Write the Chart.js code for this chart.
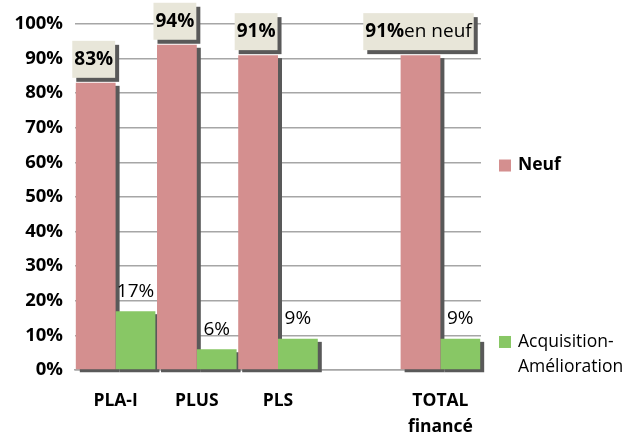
<!DOCTYPE html>
<html>
<head>
<meta charset="utf-8">
<script src="https://cdn.jsdelivr.net/npm/chart.js"></script>
<style>
html,body{margin:0;padding:0;background:#fff;}
#wrap{width:638px;height:434px;}
</style>
</head>
<body>
<div id="wrap"><canvas id="c"></canvas></div>
<script>
// values
const categories = ['PLA-I', 'PLUS', 'PLS', '', ['TOTAL', 'financé']];
const neuf = [83, 94, 91, null, 91];
const acquisition = [17, 6, 9, null, 9];
const neufSuffix = ['', '', '', '', 'en neuf'];
const seriesNames = ['Neuf', 'Acquisition-\nAmélioration'];
const yMax = 100;
const yStep = 10;

const PINK = '#D48F8F';
const GREEN = '#88C765';
const SHADOW = '#595959';
const BOX = '#E8E6D9';
const FONT = "'Open Sans', sans-serif";

// grey drop shadow behind every bar, drawn before the bars themselves
const shadowPlugin = {
  id: 'barShadow',
  beforeDatasetsDraw(chart) {
    const ctx = chart.ctx;
    ctx.save();
    ctx.fillStyle = SHADOW;
    chart.data.datasets.forEach((ds, i) => {
      chart.getDatasetMeta(i).data.forEach((el, j) => {
        if (ds.data[j] == null) return;
        const p = el.getProps(['x', 'y', 'base', 'width'], true);
        ctx.fillRect(p.x - p.width / 2 + 4, p.y + 3, p.width, p.base - p.y);
      });
    });
    ctx.restore();
  }
};

// value labels: boxed for Neuf, plain for Acquisition
const labelPlugin = {
  id: 'valueLabels',
  afterDatasetsDraw(chart) {
    const ctx = chart.ctx;
    ctx.save();
    ctx.textBaseline = 'middle';
    chart.getDatasetMeta(0).data.forEach((el, j) => {
      const v = neuf[j];
      if (v == null) return;
      const main = v + '%';
      const suf = neufSuffix[j];
      ctx.font = 'bold 19px ' + FONT;
      const w1 = ctx.measureText(main).width;
      ctx.font = '19px ' + FONT;
      const w2 = suf ? ctx.measureText(suf).width : 0;
      const bw = w1 + w2 + 4, bh = 37;
      const bx = el.x - bw / 2 - 2, by = el.y - 5 - bh;
      ctx.fillStyle = SHADOW;
      ctx.fillRect(bx + 4, by + 4, bw, bh);
      ctx.fillStyle = BOX;
      ctx.fillRect(bx, by, bw, bh);
      ctx.fillStyle = '#000';
      ctx.textAlign = 'left';
      ctx.font = 'bold 19px ' + FONT;
      ctx.fillText(main, bx + 2, by + bh / 2);
      if (suf) {
        ctx.font = '19px ' + FONT;
        ctx.fillText(suf, bx + 2 + w1, by + bh / 2);
      }
    });
    ctx.font = '19px ' + FONT;
    ctx.textAlign = 'center';
    ctx.fillStyle = '#000';
    chart.getDatasetMeta(1).data.forEach((el, j) => {
      const v = acquisition[j];
      if (v == null) return;
      ctx.fillText(v + '%', el.x, el.y - 20);
    });
    ctx.restore();
  }
};

// legend on the right, items spread like the reference
const legendPlugin = {
  id: 'sideLegend',
  afterDraw(chart) {
    const ctx = chart.ctx;
    const a = chart.chartArea;
    const h = a.bottom - a.top;
    const spots = [0.409, 0.919];
    const weights = ['bold', 'normal'];
    ctx.save();
    ctx.textBaseline = 'middle';
    ctx.textAlign = 'left';
    chart.data.datasets.forEach((ds, i) => {
      const y = a.top + spots[i] * h;
      ctx.fillStyle = ds.backgroundColor;
      ctx.fillRect(a.right + 18, y - 6, 12, 12);
      ctx.fillStyle = '#000';
      ctx.font = weights[i] + ' 17.5px ' + FONT;
      seriesNames[i].split('\n').forEach((line, k) => {
        ctx.fillText(line, a.right + 37, y + k * 25);
      });
    });
    ctx.restore();
  }
};

new Chart(document.getElementById('c'), {
  type: 'bar',
  data: {
    labels: categories,
    datasets: [
      { label: seriesNames[0], data: neuf, backgroundColor: PINK },
      { label: seriesNames[1], data: acquisition, backgroundColor: GREEN }
    ]
  },
  options: {
    responsive: true,
    maintainAspectRatio: false,
    animation: false,
    layout: { padding: { top: 24, right: 157, left: 0, bottom: 0 } },
    datasets: { bar: { categoryPercentage: 0.98, barPercentage: 1.0 } },
    plugins: { legend: { display: false }, tooltip: { enabled: false } },
    scales: {
      x: {
        grid: { display: false, drawTicks: false },
        border: { display: true, color: '#a6a6a6', width: 1.5 },
        ticks: { color: '#000', font: { family: FONT, size: 17.5, weight: 'bold', lineHeight: 1.43 }, padding: 19, maxRotation: 0, autoSkip: false },
        afterFit(s) { s.height = 64; }
      },
      y: {
        min: 0, max: yMax,
        grid: { color: '#a6a6a6', lineWidth: 1.5, drawTicks: false },
        border: { display: false },
        ticks: { stepSize: yStep, color: '#000', padding: 12, font: { family: FONT, size: 18.5, weight: 'bold' }, callback: v => v + '%' },
        afterFit(s) { s.width = 75; }
      }
    }
  },
  plugins: [shadowPlugin, labelPlugin, legendPlugin]
});
</script>
</body>
</html>
